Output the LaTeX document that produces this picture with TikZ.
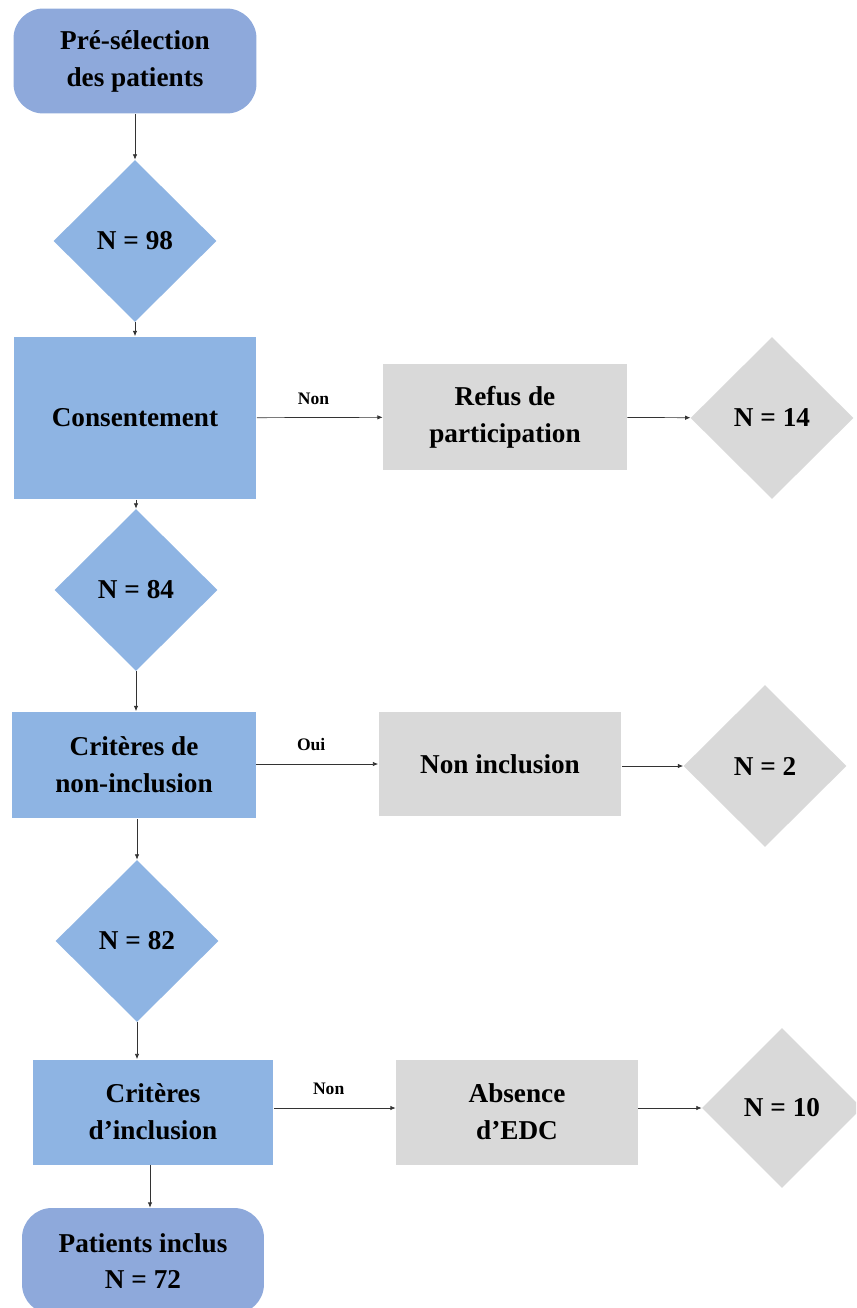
\documentclass[tikz,border=0pt]{standalone}
\usepackage{fontspec}
\setmainfont{Liberation Serif}
\usepackage{tikz}
\usepackage{xcolor}
\usetikzlibrary{shapes.geometric,arrows.meta}
\definecolor{boxblue}{HTML}{8EB4E3}
\definecolor{roundblue}{HTML}{8EA9DB}
\definecolor{boxgrey}{HTML}{D9D9D9}
\tikzset{
    blue-box/.style = {fill=boxblue, rectangle, align=center, inner sep=0pt, font=\bfseries\fontsize{15.5}{21}\selectfont},
    grey-box/.style = {blue-box, fill=boxgrey},
    start-box/.style = {blue-box, fill=roundblue, rounded corners=17pt},
    blue-diamond/.style = {blue-box, diamond, minimum width=3.26cm, minimum height=3.24cm},
    grey-diamond/.style = {blue-diamond, fill=boxgrey},
    flow/.style = {draw=black!80, line width=0.4pt, -{Latex[length=3pt,width=2.5pt]}},
    flow-label/.style = {font=\bfseries\fontsize{10}{12}\selectfont},
}

\begin{document}
\begin{tikzpicture}[x=0.02cm, y=-0.02cm]
\clip (0,0) rectangle (856,1308);
\node [start-box, minimum width=4.86cm, minimum height=2.1cm] (pre) at (135,61) {Pré-sélection\\des patients};
\node [blue-diamond] (n98) at (135,241) {N = 98};
\node [blue-box, minimum width=4.86cm, minimum height=3.26cm] (consent) at (135,418) {Consentement};
\node [grey-box, minimum width=4.88cm, minimum height=2.12cm] (refus) at (505,417) {Refus de\\participation};
\node [grey-diamond] (n14) at (772,418) {N = 14};
\node [blue-diamond] (n84) at (136,590) {N = 84};
\node [blue-box, minimum width=4.88cm, minimum height=2.14cm] (noncrit) at (134,765) {Critères de\\non-inclusion};
\node [grey-box, minimum width=4.86cm, minimum height=2.08cm] (noninc) at (500,764) {Non inclusion};
\node [grey-diamond] (n2) at (765,766) {N = 2};
\node [blue-diamond] (n82) at (137,941) {N = 82};
\node [blue-box, minimum width=4.82cm, minimum height=2.1cm] (inccrit) at (153,1112) {Critères\\d’inclusion};
\node [grey-box, minimum width=4.84cm, minimum height=2.1cm] (absence) at (517,1112) {Absence\\d’EDC};
\node [grey-diamond, minimum width=3.2cm, minimum height=3.2cm] (n10) at (782,1108) {N = 10};
\node [start-box, minimum width=4.84cm, minimum height=2.12cm] (inclus) at (143,1261) {Patients inclus\\N = 72};

\draw [flow] (pre) -- (n98);
\draw [flow] (n98) -- (n98 |- consent.north);
\draw [flow] (consent) -- node [flow-label, above=4pt, pos=0.45] (non1) {Non} (refus);
\draw [flow] (refus) -- (n14);
\draw [flow] (consent.south -| n84) -- (n84);
\draw [flow] (n84) -- (n84 |- noncrit.north);
\draw [flow] (noncrit.east |- noninc) -- node [flow-label, above=4pt, pos=0.45] (oui) {Oui} (noninc);
\draw [flow] (noninc.east |- n2) -- (n2);
\draw [flow] (noncrit.south -| n82) -- (n82);
\draw [flow] (n82) -- (n82 |- inccrit.north);
\draw [flow] (inccrit.east |- n10) -- node [flow-label, above=4pt, pos=0.45] (non2) {Non} (absence.west |- n10);
\draw [flow] (absence.east |- n10) -- (n10);
\draw [flow] (inccrit.south -| 150,0) -- (inclus.north -| 150,0);
\end{tikzpicture}
\end{document}
